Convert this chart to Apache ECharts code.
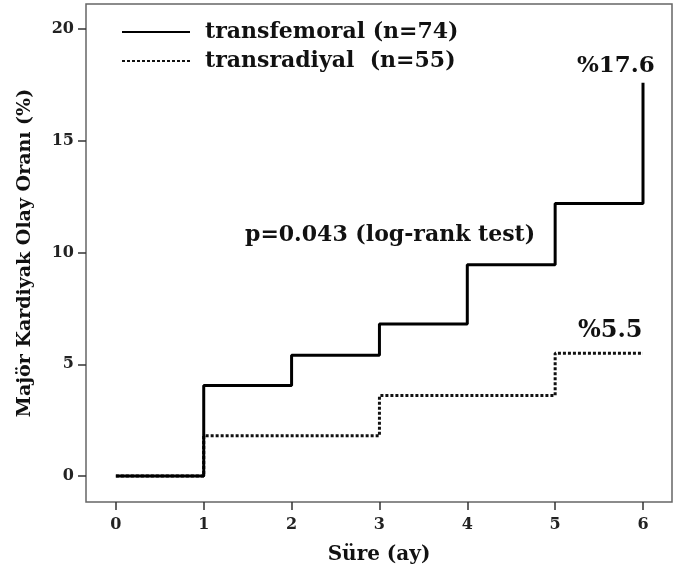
<!DOCTYPE html>
<html>
<head>
<meta charset="utf-8">
<script src="https://cdn.jsdelivr.net/npm/echarts@6/dist/echarts.min.js"></script>
<style>
    html, body { margin: 0; padding: 0; background: #fff; }
    #chart { width: 680px; height: 574px; }
</style>
</head>
<body>
<div id="chart"></div>
<script>
// Kaplan-Meier benzeri basamak eğrileri (ay, %)
const femoralMonths = [0, 1, 2, 3, 4, 5, 6]
const femoralRates = [0, 4.05, 5.4, 6.8, 9.45, 12.2, 17.6]
const radialMonths = [0, 1, 3, 5, 6]
const radialRates = [0, 1.8, 3.6, 5.5, 5.5]
const xTicks = [0, 1, 2, 3, 4, 5, 6]
const yTicks = [0, 5, 10, 15, 20]
const seriesNames = ['transfemoral (n=74)', 'transradiyal  (n=55)']

const font = '"DejaVu Serif", "Liberation Serif", serif'

function toPairs(xs, ys) {
    return xs.map((x, i) => [x, ys[i]])
}

const chart = echarts.init(document.getElementById('chart'))

const option = {
    animation: false,
    textStyle: {
        fontFamily: font,
    },
    grid: {
        left: 86,
        top: 4,
        right: 8,
        bottom: 72,
        show: true,
        borderColor: '#666',
        borderWidth: 1.5,
    },
    legend: {
        orient: 'vertical',
        left: 116,
        top: 16,
        itemWidth: 68,
        itemHeight: 14,
        itemGap: 7,
        itemStyle: { opacity: 0 },
        textStyle: {
            fontFamily: font,
            fontWeight: 'bold',
            fontSize: 22,
            lineHeight: 22,
            color: '#111',
            padding: [0, 0, 0, 10],
        },
        data: seriesNames,
    },
    xAxis: {
        type: 'value',
        min: -0.34,
        max: 6.33,
        interval: 1,
        name: 'Süre (ay)',
        nameLocation: 'middle',
        nameGap: 43,
        nameTextStyle: {
            fontFamily: font,
            fontWeight: 'bold',
            fontSize: 20,
            color: '#111',
        },
        splitLine: { show: false },
        axisLine: { show: false, onZero: false },
        axisTick: {
            show: true,
            length: 8,
            lineStyle: { color: '#333', width: 1.5 },
            customValues: xTicks,
        },
        axisLabel: {
            fontWeight: 'bold',
            fontSize: 16,
            color: '#222',
            margin: 15,
            customValues: xTicks,
        },
    },
    yAxis: {
        type: 'value',
        min: -1.16,
        max: 21.12,
        name: 'Majör Kardiyak Olay Oranı (%)',
        nameLocation: 'middle',
        nameGap: 51,
        nameTextStyle: {
            fontFamily: font,
            fontWeight: 'bold',
            fontSize: 19,
            color: '#111',
        },
        splitLine: { show: false },
        axisLine: { show: false, onZero: false },
        axisTick: {
            show: true,
            length: 8,
            lineStyle: { color: '#333', width: 1.5 },
            customValues: yTicks,
        },
        axisLabel: {
            fontWeight: 'bold',
            fontSize: 16,
            color: '#222',
            margin: 12,
            customValues: yTicks,
        },
    },
    series: [
        {
            name: seriesNames[0],
            type: 'line',
            step: 'end',
            symbol: 'none',
            data: toPairs(femoralMonths, femoralRates),
            lineStyle: { color: '#000', width: 3 },
            itemStyle: { color: '#000' },
            z: 3,
        },
        {
            name: seriesNames[1],
            type: 'line',
            step: 'end',
            symbol: 'none',
            data: toPairs(radialMonths, radialRates),
            lineStyle: { color: '#111', width: 3, type: [3, 2] },
            itemStyle: { color: '#111' },
            z: 2,
        },
    ],
    graphic: [
        {
            type: 'text',
            left: 577,
            top: 55,
            style: {
                text: '%17.6',
                font: 'bold 23px ' + font,
                fill: '#111',
            },
        },
        {
            type: 'text',
            left: 578,
            top: 319,
            style: {
                text: '%5.5',
                font: 'bold 24px ' + font,
                fill: '#111',
            },
        },
        {
            type: 'text',
            left: 245,
            top: 224,
            style: {
                text: 'p=0.043 (log-rank test)',
                font: 'bold 22px ' + font,
                fill: '#111',
            },
        },
    ],
}

chart.setOption(option)
</script>
</body>
</html>
